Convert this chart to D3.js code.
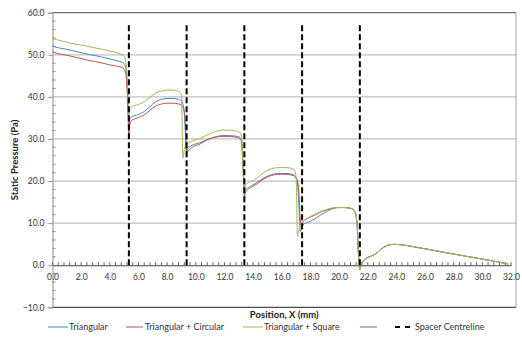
<!DOCTYPE html>
<html>
<head>
<meta charset="utf-8">
<script src="https://cdn.jsdelivr.net/npm/d3@7"></script>
<style>
  html, body { margin: 0; padding: 0; background: #fff; }
  svg { display: block; font-family: Lato, "Open Sans", sans-serif; }
</style>
</head>
<body>
<svg id="chart" width="522" height="348"></svg>
<script>
// Position along the channel (mm), shared by all three profiles
const positionX = [
  0, 0.25, 0.5, 1.0, 1.5, 2.0, 2.5, 3.0, 3.5, 4.0, 4.5, 4.8, 5.0, 5.1, 5.2, 5.28,
  5.33, 5.4, 5.5, 5.7, 6.0, 6.4, 6.8, 7.2, 7.6, 8.0, 8.4, 8.8, 9.0, 9.1, 9.2, 9.3,
  9.36, 9.45, 9.6, 9.9, 10.3, 10.7, 11.1, 11.5, 11.9, 12.3, 12.7, 12.9, 13.1, 13.2, 13.3,
  13.39, 13.45, 13.6, 13.9, 14.3, 14.7, 15.1, 15.5, 15.9, 16.3, 16.7, 16.9, 17.0, 17.1, 17.2, 17.3,
  17.42, 17.5, 17.65, 17.9, 18.3, 18.7, 19.1, 19.5, 19.9, 20.3, 20.7, 20.9, 21.1, 21.25, 21.35,
  21.45, 21.55, 21.7, 21.9, 22.1, 22.4, 22.7, 23.0, 23.3, 23.6, 23.9, 24.2, 24.6, 25.5, 26.5, 27.5, 28.5, 29.5, 30.5, 31.5, 31.8
];

// Static pressure (Pa)
const triangular = [
  52.1, 51.8, 51.6, 51.3, 50.9, 50.5, 50.1, 49.8, 49.4, 49.0, 48.6, 48.3, 47.9, 47.0, 43.5, 37.0,
  33.3, 34.6, 35.2, 35.5, 35.8, 36.5, 37.7, 38.8, 39.4, 39.6, 39.6, 39.4, 39.0, 38.3, 36.0, 29.5,
  26.3, 27.0, 27.6, 28.3, 28.8, 29.6, 30.2, 30.6, 30.8, 30.8, 30.7, 30.6, 30.3, 29.5, 23.5,
  17.5, 17.8, 18.3, 18.9, 19.7, 20.6, 21.3, 21.7, 21.8, 21.8, 21.6, 21.3, 20.8, 19.5, 14.0, 8.0,
  9.0, 9.6, 10.0, 10.3, 11.0, 11.9, 12.7, 13.4, 13.7, 13.7, 13.6, 13.4, 12.8, 10.0, 3.0,
  -1.0, 0.2, 1.0, 1.6, 2.0, 2.4, 3.1, 4.0, 4.6, 4.9, 4.95, 4.9, 4.75, 4.2, 3.6, 2.95, 2.35, 1.75, 1.15, 0.5, 0.3
];

const triangularCircular = [
  50.7, 50.4, 50.2, 49.9, 49.5, 49.1, 48.7, 48.4, 48.0, 47.6, 47.3, 47.0, 46.6, 45.6, 42.0, 35.0,
  31.0, 33.5, 34.3, 34.7, 35.1, 35.7, 36.8, 37.8, 38.3, 38.5, 38.5, 38.3, 38.0, 37.6, 36.5, 32.0,
  26.8, 27.8, 28.2, 28.7, 29.1, 29.7, 30.2, 30.5, 30.6, 30.6, 30.5, 30.3, 30.0, 29.2, 22.5,
  15.9, 17.2, 17.9, 18.5, 19.4, 20.4, 21.1, 21.5, 21.6, 21.6, 21.4, 21.1, 20.7, 20.0, 17.0, 10.5,
  9.1, 10.4, 10.8, 11.3, 11.9, 12.6, 13.1, 13.5, 13.7, 13.7, 13.6, 13.4, 12.8, 10.0, 3.0,
  -1.0, 0.2, 1.0, 1.6, 2.0, 2.4, 3.1, 4.0, 4.6, 4.9, 4.95, 4.9, 4.75, 4.2, 3.6, 2.95, 2.35, 1.75, 1.15, 0.5, 0.3
];

const triangularSquare = [
  53.9, 53.6, 53.4, 53.0, 52.6, 52.3, 52.0, 51.6, 51.3, 50.9, 50.5, 50.1, 49.6, 48.6, 45.0, 39.0,
  35.5, 37.0, 37.6, 37.9, 38.2, 38.8, 39.9, 40.9, 41.4, 41.6, 41.6, 41.3, 40.5, 25.5, 27.5, 28.5,
  28.8, 29.0, 29.3, 29.7, 30.1, 30.8, 31.4, 31.9, 32.1, 32.1, 31.9, 31.8, 31.5, 30.5, 24.0,
  17.9, 18.8, 19.5, 19.9, 20.8, 21.9, 22.7, 23.1, 23.2, 23.2, 23.0, 22.6, 21.0, 7.0, 8.5, 9.6,
  10.2, 10.5, 10.8, 11.4, 12.1, 12.7, 13.2, 13.6, 13.7, 13.7, 13.6, 13.4, 12.8, 10.0, 3.0,
  -1.0, 0.2, 1.0, 1.6, 2.0, 2.4, 3.1, 4.0, 4.6, 4.9, 4.95, 4.9, 4.75, 4.2, 3.6, 2.95, 2.35, 1.75, 1.15, 0.5, 0.3
];

// Fourth series has no points; it only appears in the legend
const unnamedSeries = [];

// Spacer centrelines (mm) and the pressure span they are drawn over
const spacerX = [5.33, 9.36, 13.39, 17.42, 21.45];
const spacerSpan = [0, 57];

const seriesNames = ["Triangular", "Triangular + Circular", "Triangular + Square", "", "Spacer Centreline"];
const seriesColors = ["#4F81BD", "#C0504D", "#9BBB59", "#8064A2", "#000000"];

const xTicks = d3.range(0, 32.01, 2);
const yTicks = d3.range(-10, 60.01, 10);

const svg = d3.select("#chart");
const plot = { left: 52.5, right: 511, top: 12.7, bottom: 307.3, frameRight: 516 };

const x = d3.scaleLinear().domain([0, 32]).range([plot.left, plot.right]);
const y = d3.scaleLinear().domain([-10, 60]).range([plot.bottom, plot.top]);

// Horizontal gridlines
svg.append("g").selectAll("line")
  .data(yTicks.filter(v => v > 0 && v < 60))
  .join("line")
  .attr("x1", plot.left).attr("x2", plot.frameRight)
  .attr("y1", d => y(d)).attr("y2", d => y(d))
  .attr("stroke", "#c0c0c0").attr("stroke-width", 1.2);

// Plot frame
svg.append("line").attr("x1", plot.left).attr("x2", plot.frameRight)
  .attr("y1", plot.top).attr("y2", plot.top).attr("stroke", "#6e6e6e").attr("stroke-width", 1.2);
svg.append("line").attr("x1", plot.frameRight).attr("x2", plot.frameRight)
  .attr("y1", plot.top).attr("y2", plot.bottom).attr("stroke", "#a6a6a6").attr("stroke-width", 1);
svg.append("line").attr("x1", plot.left).attr("x2", plot.frameRight)
  .attr("y1", plot.bottom).attr("y2", plot.bottom).attr("stroke", "#4d4d4d").attr("stroke-width", 1.2);

// Y axis with outward major ticks and inward minor ticks
const yAxis = d3.axisLeft(y).tickValues(yTicks).tickFormat(d3.format(".1f")).tickSize(4).tickPadding(4);
const gy = svg.append("g").attr("transform", `translate(${plot.left},0)`).call(yAxis);
gy.select(".domain").attr("stroke", "#8c8c8c");
gy.selectAll(".tick line").attr("stroke", "#8c8c8c");
gy.selectAll("text").attr("font-size", 8.5).attr("fill", "#333").attr("font-family", "Lato, sans-serif");
svg.append("g").selectAll("line")
  .data(d3.range(-10, 60, 2).filter(v => v % 10 !== 0))
  .join("line")
  .attr("x1", plot.left).attr("x2", plot.left + 3)
  .attr("y1", d => y(d)).attr("y2", d => y(d))
  .attr("stroke", "#8c8c8c");

// X axis along zero pressure
const xAxis = d3.axisBottom(x).tickValues(xTicks).tickFormat(d3.format(".1f")).tickSize(0).tickPadding(9);
const gx = svg.append("g").attr("transform", `translate(0,${y(0)})`).call(xAxis);
gx.select(".domain").attr("stroke", "#404040").attr("stroke-width", 1.1);
gx.selectAll("text").attr("font-size", 8.5).attr("fill", "#333").attr("font-family", "Lato, sans-serif");
svg.append("g").selectAll("line")
  .data(d3.range(0, 32.001, 0.4))
  .join("line")
  .attr("x1", d => x(d)).attr("x2", d => x(d))
  .attr("y1", y(0)).attr("y2", y(0) - 3)
  .attr("stroke", "#606060");

// Pressure profiles
const line = d3.line()
  .x(d => x(d[0]))
  .y(d => y(d[1]))
  .curve(d3.curveMonotoneX);

const profiles = [triangular, triangularCircular, triangularSquare, unnamedSeries];
profiles.forEach((vals, i) => {
  if (!vals.length) return;
  svg.append("path")
    .datum(vals.map((v, j) => [positionX[j], v]))
    .attr("d", line)
    .attr("fill", "none")
    .attr("stroke", seriesColors[i])
    .attr("stroke-width", 1);
});

// Spacer centrelines
svg.append("g").selectAll("line")
  .data(spacerX)
  .join("line")
  .attr("x1", d => x(d)).attr("x2", d => x(d))
  .attr("y1", y(spacerSpan[1])).attr("y2", y(spacerSpan[0]))
  .attr("stroke", "#000")
  .attr("stroke-width", 2)
  .attr("stroke-dasharray", "6,3");

// Axis titles
svg.append("text")
  .attr("x", (plot.left + plot.frameRight) / 2).attr("y", 318)
  .attr("text-anchor", "middle")
  .attr("font-size", 9.5).attr("font-weight", "bold").attr("fill", "#222")
  .text("Position, X (mm)");

svg.append("text")
  .attr("transform", `translate(18,${(plot.top + plot.bottom) / 2}) rotate(-90)`)
  .attr("text-anchor", "middle")
  .attr("font-size", 9.5).attr("font-weight", "bold").attr("fill", "#222")
  .text("Static Pressure (Pa)");

// Legend
const legendY = 327;
const legendItems = [
  { x1: 48, x2: 68, tx: 69 },
  { x1: 126, x2: 143, tx: 145 },
  { x1: 243, x2: 263, tx: 264 },
  { x1: 360, x2: 377, tx: 379 },
  { x1: 395, x2: 410, tx: 415 }
];
legendItems.forEach((it, i) => {
  const g = svg.append("g");
  g.append("line")
    .attr("x1", it.x1).attr("x2", it.x2)
    .attr("y1", legendY).attr("y2", legendY)
    .attr("stroke", seriesColors[i])
    .attr("stroke-width", i === 4 ? 2 : 1)
    .attr("stroke-dasharray", i === 4 ? "5,5" : null);
  if (seriesNames[i]) {
    g.append("text")
      .attr("x", it.tx).attr("y", legendY + 3)
      .attr("font-size", 9).attr("fill", "#333")
      .text(seriesNames[i]);
  }
});
</script>
</body>
</html>
